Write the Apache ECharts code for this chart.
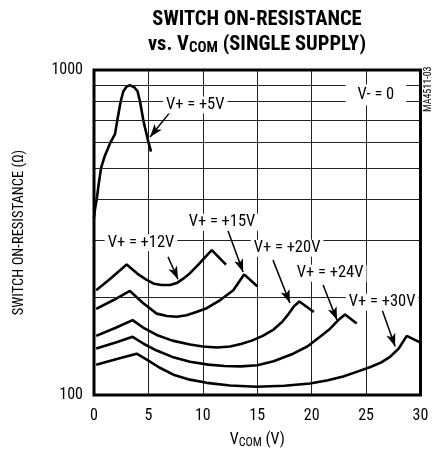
<!DOCTYPE html>
<html>
<head>
<meta charset="utf-8">
<script src="https://cdn.jsdelivr.net/npm/echarts@6/dist/echarts.min.js"></script>
<style>html,body{margin:0;padding:0;background:#fff}#c{width:441px;height:455px}</style>
</head>
<body>
<div id="c"></div>
<script>
// ---- data ----
const xTicks = [0, 5, 10, 15, 20, 25, 30];
const yGridValues = [200, 300, 400, 500, 600, 700, 800, 900];
const curve5V = [[0,350],[0.1,375],[0.25,400],[0.45,450],[0.65,500],[1.0,545],[1.53,600],[1.93,635],[2.14,700],[2.45,800],[2.7,860],[3.0,890],[3.3,898],[3.7,885],[4.0,860],[4.23,800],[4.53,700],[5.0,600],[5.24,561]];
const curve12V = [[0.2,210],[1.5,228],[3.0,252],[4.0,236],[4.84,226],[5.5,220],[6.2,218],[7.0,218],[7.6,221],[8.2,228],[8.82,237],[9.5,250],[10.05,262],[10.82,279],[12.13,252]];
const curve15V = [[0.2,184],[1.8,196],[3.3,209],[4.5,192],[5.76,178],[6.7,175],[7.6,174],[8.5,176],[9.4,180],[10.36,185],[11.6,196],[12.8,210],[13.79,235],[15.0,216]];
const curve20V = [[0.2,152],[2.0,161],[3.55,170],[4.6,160.5],[5.76,153],[7.2,147],[8.82,143],[10.0,141],[11.3,140],[12.5,141],[13.5,143.5],[14.5,147],[15.5,152],[16.5,159],[17.3,168],[17.9,178],[18.4,188],[18.87,194],[20.2,180]];
const curve24V = [[0.2,139],[2.0,145],[3.55,151],[4.6,143.5],[5.76,137],[7.2,131],[8.82,126.5],[10.5,124],[12.0,122.8],[13.5,122.5],[15.0,123.5],[16.5,127],[18.3,134],[19.6,141],[20.77,151],[21.7,160],[22.45,170],[23.07,177],[24.14,166]];
const curve30V = [[0.2,124],[2.1,129],[3.92,134],[5.0,127.5],[6.0,121.5],[7.3,115.5],[8.8,111.5],[10.36,109],[12.5,107],[14.95,106],[17.5,106.8],[19.85,108.5],[21.5,111],[22.9,114],[24.2,118],[25.4,122],[26.4,126],[27.2,131],[28.0,139],[28.74,152],[30.0,145]];
const annotations = [[9.3,780,'V+ = +5V'],[25.9,838,'V- = 0'],[4.32,294,'V+ = +12V'],[11.76,340,'V+ = +15V'],[17.74,283,'V+ = +20V'],[21.7,237,'V+ = +24V'],[26.47,193,'V+ = +30V']];
const arrows = [[[6.99,742],[5.15,622]],[[6.8,266],[7.72,227]],[[12.3,321],[13.7,239]],[[16.45,260],[18.0,192]],[[21.05,218],[22.33,170]],[[26.47,183],[27.67,141]]];

const FONT = '"Roboto Condensed", "DejaVu Sans Condensed", sans-serif';
const chart = echarts.init(document.getElementById('c'), null, {renderer: 'canvas'});

function curve(data) {
  return {type: 'line', data: data, showSymbol: false, symbol: 'none', smooth: false,
    lineStyle: {color: '#000', width: 2.6}, z: 3, silent: true, animation: false};
}

const option = {
  animation: false,
  backgroundColor: '#fff',
  grid: {left: 94, right: 20.5, top: 70, bottom: 60, show: true, borderColor: '#000', borderWidth: 3, backgroundColor: 'transparent', z: 10},
  graphic: [{
    type: 'text', x: 257, y: 7, z: 20,
    style: {
      text: '{t|SWITCH ON-RESISTANCE}\n{t|vs. V}{s|COM}{t| (SINGLE SUPPLY)}',
      align: 'center',
      rich: {
        t: {fontFamily: FONT, fontWeight: 'bold', fontSize: 20.5, lineHeight: 25, fill: '#000'},
        s: {fontFamily: FONT, fontWeight: 'bold', fontSize: 15, lineHeight: 25, padding: [7, 0, 0, 0], fill: '#000'}
      }
    }
  }, {
    type: 'text', x: 423, y: 112, rotation: Math.PI / 2, z: 20,
    style: {text: 'MA4511-03', fontFamily: FONT, fontSize: 10, fill: '#000', verticalAlign: 'top'}
  }],
  xAxis: {
    type: 'value', min: 0, max: 30, interval: 5,
    axisLine: {show: false}, axisTick: {show: false},
    axisLabel: {color: '#000', fontFamily: FONT, fontSize: 16, margin: 13},
    splitLine: {show: true, lineStyle: {color: '#222', width: 1}},
    name: 'V{s|COM} (V)', nameLocation: 'middle', nameGap: 36,
    nameTextStyle: {color: '#000', fontFamily: FONT, fontSize: 16,
      rich: {s: {fontFamily: FONT, fontSize: 12, color: '#000', padding: [6, 0, 0, 0]}}}
  },
  yAxis: {
    type: 'log', logBase: 10, min: 100, max: 1000,
    axisLine: {show: false}, axisTick: {show: false},
    axisLabel: {color: '#000', fontFamily: FONT, fontSize: 16, margin: 11, formatter: v => String(Math.round(v))},
    splitLine: {show: false},
    name: 'SWITCH ON-RESISTANCE (Ω)', nameLocation: 'middle', nameGap: 67,
    nameTextStyle: {color: '#000', fontFamily: FONT, fontSize: 14.5}
  },
  series: [
    {type: 'line', data: [], z: 1, silent: true,
      markLine: {silent: true, symbol: 'none', label: {show: false}, animation: false,
        lineStyle: {color: '#222', width: 1, type: 'solid'},
        data: yGridValues.map(v => ({yAxis: v}))}},
    curve(curve5V), curve(curve12V), curve(curve15V), curve(curve20V), curve(curve24V), curve(curve30V),
    {type: 'scatter', symbolSize: 0, z: 5, silent: true, itemStyle: {opacity: 1},
      data: annotations.map(a => ({value: [a[0], a[1], a[2]],
        label: {padding: a[2] === 'V- = 0' ? [2, 12] : [0, 3]}})),
      label: {show: true, position: 'inside', formatter: p => p.value[2], color: '#000', opacity: 1,
        fontFamily: FONT, fontSize: 16.5, backgroundColor: '#fff'}},
    {type: 'line', data: [], z: 6, silent: true,
      markLine: {silent: true, symbol: ['none', 'arrow'], symbolSize: [7, 13], label: {show: false}, animation: false,
        lineStyle: {color: '#000', width: 1.5, type: 'solid'},
        data: arrows.map(a => [{coord: a[0]}, {coord: a[1]}])}}
  ]
};
chart.setOption(option);
</script>
</body>
</html>
